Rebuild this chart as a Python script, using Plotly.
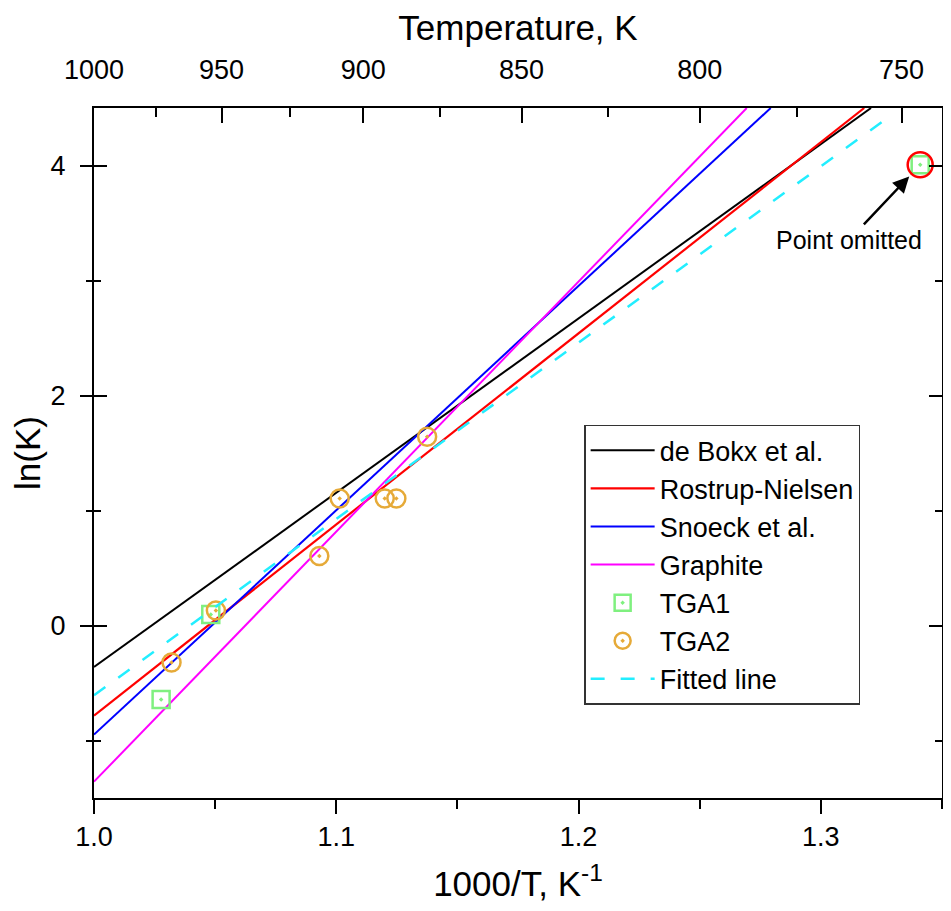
import plotly.graph_objects as go

# ---- data ----
debokx_x = [1.0, 1.3207]
debokx_y = [-0.361, 4.5]
rostrup_x = [1.0, 1.3179]
rostrup_y = [-0.783, 4.5]
snoeck_x = [1.0, 1.2793]
snoeck_y = [-0.948, 4.5]
graphite_x = [1.0, 1.2694]
graphite_y = [-1.358, 4.5]
fitted_x = [1.0, 1.3282]
fitted_y = [-0.607, 4.425]

tga1_x = [1.0277, 1.0482, 1.3410]
tga1_y = [-0.644, 0.095, 4.006]
tga2_x = [1.0320, 1.0503, 1.0930, 1.1014, 1.1200, 1.1248, 1.1375]
tga2_y = [-0.321, 0.130, 0.604, 1.105, 1.105, 1.105, 1.641]
omitted_x = [1.3410]
omitted_y = [4.006]

top_major_T = [1000, 950, 900, 850, 800, 750]
top_minor_T = [975, 925, 875, 825, 775]

FONT = "Liberation Sans, Arial, sans-serif"
CLEAR = "rgba(0,0,0,0)"

fig = go.Figure()
fig.add_trace(go.Scatter(x=debokx_x, y=debokx_y, mode="lines", name="de Bokx et al.",
                         line=dict(color="#000000", width=2)))
fig.add_trace(go.Scatter(x=rostrup_x, y=rostrup_y, mode="lines", name="Rostrup-Nielsen",
                         line=dict(color="#ff0000", width=2.2)))
fig.add_trace(go.Scatter(x=snoeck_x, y=snoeck_y, mode="lines", name="Snoeck et al.",
                         line=dict(color="#0000ff", width=2)))
fig.add_trace(go.Scatter(x=graphite_x, y=graphite_y, mode="lines", name="Graphite",
                         line=dict(color="#ff00ff", width=2)))
fig.add_trace(go.Scatter(x=tga1_x, y=tga1_y, mode="markers", name="TGA1",
                         marker=dict(symbol="square-open-dot", size=17, color="#7ff07f",
                                     line=dict(width=2.5, color="#7ff07f"))))
fig.add_trace(go.Scatter(x=tga2_x, y=tga2_y, mode="markers", name="TGA2",
                         marker=dict(symbol="circle-open-dot", size=18, color="#e6aa38",
                                     line=dict(width=2.5, color="#e6aa38"))))
fig.add_trace(go.Scatter(x=fitted_x, y=fitted_y, mode="lines", name="Fitted line",
                         line=dict(color="#22eeff", width=2.5, dash="14px,16px")))
fig.add_trace(go.Scatter(x=omitted_x, y=omitted_y, mode="markers", showlegend=False,
                         marker=dict(symbol="circle-open", size=25, color="#ff0000",
                                     line=dict(width=2.5, color="#ff0000"))))
# helper traces so that overlay axes are drawn
for xa, ya in [("x2", "y"), ("x3", "y"), ("x", "y3"), ("x", "y4")]:
    fig.add_trace(go.Scatter(x=[], y=[], xaxis=xa, yaxis=ya, showlegend=False, hoverinfo="skip"))

xr = [1.0, 1.35]
yr = [-1.5, 4.5]
top_vals = [1000.0 / t for t in top_major_T]
top_minor_vals = [1000.0 / t for t in top_minor_T]

# page body has an 8px margin, so the figure is 8px smaller on each side
fig.update_layout(
    width=943, height=895,
    margin=dict(l=86, r=9, t=100, b=105, autoexpand=False),
    paper_bgcolor="white", plot_bgcolor="white",
    font=dict(family=FONT, color="black"),
    # bottom axis
    xaxis=dict(range=xr, showgrid=False, zeroline=False, showline=True, linewidth=2,
               linecolor="black", mirror=True, ticks="outside", ticklen=14, tickwidth=2,
               tickcolor="black", tick0=1.0, dtick=0.1, tickformat=".1f", automargin=False,
               tickfont=dict(size=27, family=FONT),
               minor=dict(dtick=0.05, ticks="outside", ticklen=9, tickwidth=2, tickcolor="black"),
               title=dict(text="1000/T, K<sup>-1</sup>", font=dict(size=35, family=FONT), standoff=35)),
    # top axis: labels + title (invisible outside ticks push labels up)
    xaxis2=dict(range=xr, overlaying="x", side="top", showgrid=False, zeroline=False,
                showline=False, ticks="outside", ticklen=17, tickwidth=2, tickcolor=CLEAR,
                tickmode="array", tickvals=top_vals,
                ticktext=[str(t) for t in top_major_T], automargin=False,
                tickfont=dict(size=27, family=FONT),
                title=dict(text="Temperature, K", font=dict(size=35, family=FONT), standoff=10)),
    # top axis: visible inward ticks
    xaxis3=dict(range=xr, overlaying="x", side="top", showgrid=False, zeroline=False,
                showline=False, ticks="inside", ticklen=15, tickwidth=2, tickcolor="black",
                tickmode="array", tickvals=top_vals, showticklabels=False, automargin=False,
                minor=dict(tickmode="array", tickvals=top_minor_vals,
                           ticks="inside", ticklen=9, tickwidth=2, tickcolor="black")),
    # left axis: labels + title (invisible longer ticks give the label gap)
    yaxis=dict(range=yr, showgrid=False, zeroline=False, showline=True, linewidth=2,
               linecolor="black", mirror=True, ticks="outside", ticklen=21, tickwidth=2,
               tickcolor=CLEAR, tick0=0, dtick=2, tickfont=dict(size=27, family=FONT),
               automargin=False,
               title=dict(text="ln(K)", font=dict(size=35, family=FONT), standoff=12)),
    # outward ticks on both sides
    yaxis3=dict(range=yr, overlaying="y", showgrid=False, zeroline=False, showline=False,
                mirror="ticks", ticks="outside", ticklen=13, tickwidth=2, tickcolor="black",
                tick0=0, dtick=2, showticklabels=False, automargin=False,
                minor=dict(dtick=1, ticks="outside", ticklen=7, tickwidth=2, tickcolor="black")),
    # inward ticks on both sides
    yaxis4=dict(range=yr, overlaying="y", showgrid=False, zeroline=False, showline=False,
                mirror="ticks", ticks="inside", ticklen=13, tickwidth=2, tickcolor="black",
                tick0=0, dtick=2, showticklabels=False, automargin=False,
                minor=dict(dtick=1, ticks="inside", ticklen=7, tickwidth=2, tickcolor="black")),
    legend=dict(x=0.578, y=0.541, xanchor="left", yanchor="top", bgcolor="white",
                bordercolor="#333333", borderwidth=1.5, font=dict(size=27, family=FONT),
                tracegroupgap=0, itemwidth=64),
    showlegend=True,
)

fig.add_annotation(x=omitted_x[0], y=omitted_y[0], xref="x", yref="y",
                   text="Point omitted", showarrow=True, ax=-71, ay=75,
                   arrowhead=2, arrowsize=1.3, arrowwidth=2.5, arrowcolor="black",
                   standoff=16, font=dict(size=25, family=FONT, color="black"))

fig.write_html("out.html")
